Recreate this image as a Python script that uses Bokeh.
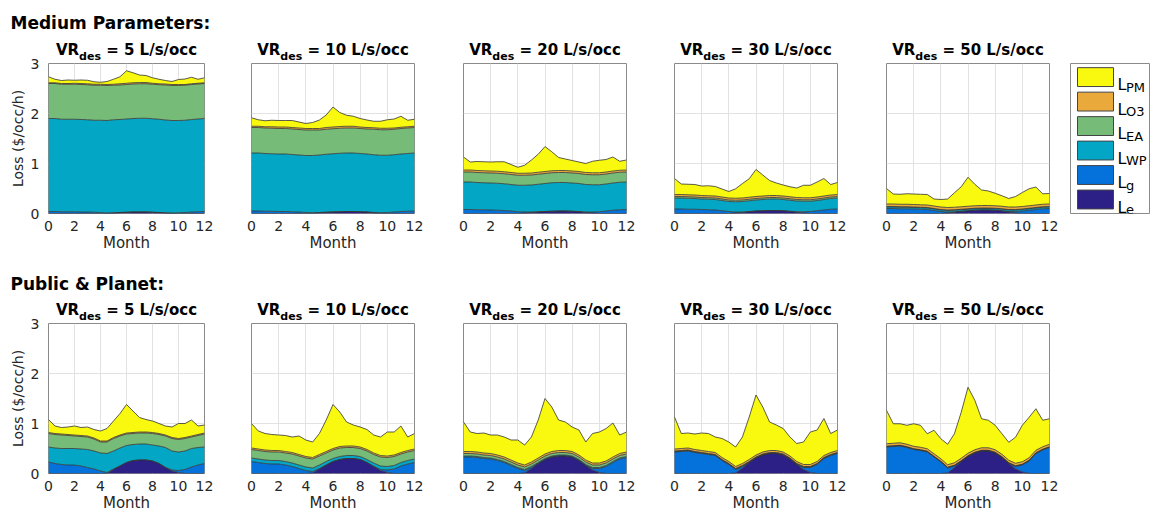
from bokeh.plotting import figure
from bokeh.models import ColumnDataSource, Range1d, FixedTicker, Label
from bokeh.layouts import row, column
from bokeh.embed import file_html
from bokeh.resources import INLINE
from bokeh.core.properties import value

# ---------------- data ----------------
MONTHS = [0, 0.5, 1, 1.5, 2, 2.5, 3, 3.5, 4, 4.5, 5, 5.5, 6, 6.5, 7, 7.5, 8, 8.5, 9, 9.5, 10, 10.5, 11, 11.5, 12]
VR_VALUES = [5, 10, 20, 30, 50]
XTICKS = [0, 2, 4, 6, 8, 10, 12]
YTICKS = [0, 1, 2, 3]
LAYERS = ["e", "g", "WP", "EA", "O3", "PM"]          # bottom -> top
LEGEND_ORDER = ["PM", "O3", "EA", "WP", "g", "e"]    # legend top -> bottom
ROW_TITLES = ["Medium Parameters:", "Public & Planet:"]

# Medium Parameters
MED5_E = [0, 0, 0, 0, 0, 0, 0, 0, 0, 0, 0.01, 0.02, 0.025, 0.03, 0.03, 0.03, 0.025, 0.02, 0.01, 0, 0, 0, 0, 0, 0]
MED5_G = [0.04, 0.04, 0.035, 0.035, 0.035, 0.03, 0.03, 0.025, 0.02, 0.01, 0.005, 0, 0, 0, 0, 0, 0, 0, 0.005, 0.01, 0.015, 0.02, 0.03, 0.035, 0.04]
MED5_WP = [1.86, 1.86, 1.85, 1.85, 1.85, 1.85, 1.845, 1.84, 1.845, 1.85, 1.86, 1.86, 1.865, 1.87, 1.875, 1.875, 1.87, 1.865, 1.855, 1.85, 1.845, 1.845, 1.85, 1.855, 1.86]
MED5_EA = [0.70, 0.70, 0.70, 0.70, 0.70, 0.70, 0.70, 0.70, 0.70, 0.70, 0.69, 0.69, 0.69, 0.69, 0.69, 0.69, 0.69, 0.69, 0.70, 0.70, 0.70, 0.70, 0.70, 0.70, 0.70]
MED5_O3 = [0.015, 0.015, 0.015, 0.015, 0.02, 0.02, 0.02, 0.02, 0.02, 0.02, 0.02, 0.025, 0.025, 0.025, 0.025, 0.025, 0.02, 0.02, 0.02, 0.02, 0.02, 0.015, 0.015, 0.015, 0.015]
MED5_PM = [0.12, 0.07, 0.06, 0.07, 0.06, 0.07, 0.07, 0.05, 0.04, 0.06, 0.10, 0.14, 0.25, 0.20, 0.15, 0.14, 0.11, 0.09, 0.07, 0.06, 0.10, 0.11, 0.13, 0.08, 0.10]

MED10_E = [0, 0, 0, 0, 0, 0, 0, 0, 0, 0.005, 0.015, 0.025, 0.03, 0.035, 0.04, 0.04, 0.035, 0.03, 0.015, 0.005, 0, 0, 0, 0, 0]
MED10_G = [0.05, 0.05, 0.045, 0.045, 0.04, 0.04, 0.035, 0.03, 0.02, 0.01, 0.005, 0, 0, 0, 0, 0, 0, 0, 0.005, 0.01, 0.02, 0.03, 0.04, 0.045, 0.05]
MED10_WP = [1.16, 1.16, 1.155, 1.15, 1.15, 1.15, 1.145, 1.14, 1.14, 1.145, 1.15, 1.16, 1.165, 1.17, 1.17, 1.17, 1.165, 1.16, 1.155, 1.15, 1.145, 1.145, 1.15, 1.155, 1.16]
MED10_EA = [0.51, 0.51, 0.51, 0.51, 0.51, 0.51, 0.51, 0.51, 0.51, 0.51, 0.50, 0.50, 0.50, 0.50, 0.50, 0.50, 0.50, 0.50, 0.51, 0.51, 0.51, 0.51, 0.51, 0.51, 0.51]
MED10_O3 = [0.025, 0.025, 0.025, 0.03, 0.03, 0.03, 0.03, 0.03, 0.03, 0.03, 0.03, 0.035, 0.035, 0.035, 0.035, 0.035, 0.03, 0.03, 0.03, 0.03, 0.03, 0.025, 0.025, 0.025, 0.025]
MED10_PM = [0.17, 0.13, 0.12, 0.13, 0.13, 0.13, 0.14, 0.12, 0.10, 0.12, 0.17, 0.25, 0.40, 0.28, 0.22, 0.20, 0.17, 0.15, 0.13, 0.14, 0.17, 0.18, 0.22, 0.13, 0.14]

MED20_E = [0, 0, 0, 0, 0, 0, 0, 0, 0, 0.01, 0.02, 0.03, 0.04, 0.045, 0.05, 0.05, 0.045, 0.035, 0.02, 0.01, 0, 0, 0, 0, 0]
MED20_G = [0.08, 0.08, 0.075, 0.075, 0.07, 0.065, 0.06, 0.05, 0.035, 0.02, 0.01, 0.005, 0, 0, 0, 0, 0, 0.005, 0.01, 0.02, 0.035, 0.05, 0.065, 0.075, 0.08]
MED20_WP = [0.55, 0.55, 0.545, 0.54, 0.54, 0.54, 0.535, 0.53, 0.53, 0.535, 0.54, 0.55, 0.56, 0.57, 0.57, 0.57, 0.565, 0.56, 0.55, 0.545, 0.54, 0.54, 0.545, 0.55, 0.55]
MED20_EA = [0.20, 0.20, 0.20, 0.20, 0.20, 0.20, 0.20, 0.20, 0.20, 0.20, 0.20, 0.20, 0.20, 0.20, 0.20, 0.20, 0.20, 0.20, 0.20, 0.20, 0.20, 0.20, 0.20, 0.20, 0.20]
MED20_O3 = [0.04, 0.04, 0.04, 0.04, 0.04, 0.04, 0.04, 0.04, 0.04, 0.04, 0.04, 0.04, 0.04, 0.04, 0.04, 0.04, 0.04, 0.04, 0.04, 0.04, 0.04, 0.04, 0.04, 0.04, 0.04]
MED20_PM = [0.26, 0.16, 0.18, 0.18, 0.18, 0.19, 0.20, 0.16, 0.12, 0.16, 0.26, 0.36, 0.50, 0.38, 0.26, 0.23, 0.21, 0.19, 0.18, 0.23, 0.25, 0.25, 0.28, 0.18, 0.20]

MED30_E = [0, 0, 0, 0, 0, 0, 0, 0, 0, 0.01, 0.02, 0.035, 0.05, 0.055, 0.06, 0.06, 0.055, 0.04, 0.025, 0.01, 0, 0, 0, 0, 0]
MED30_G = [0.09, 0.09, 0.085, 0.085, 0.08, 0.075, 0.07, 0.055, 0.04, 0.02, 0.01, 0.005, 0, 0, 0, 0, 0, 0.005, 0.01, 0.025, 0.04, 0.055, 0.07, 0.085, 0.09]
MED30_WP = [0.22, 0.22, 0.22, 0.215, 0.21, 0.21, 0.21, 0.205, 0.20, 0.205, 0.21, 0.215, 0.22, 0.225, 0.23, 0.23, 0.225, 0.22, 0.215, 0.21, 0.205, 0.205, 0.21, 0.215, 0.22]
MED30_EA = [0.03, 0.03, 0.03, 0.03, 0.03, 0.03, 0.03, 0.03, 0.03, 0.03, 0.03, 0.03, 0.03, 0.03, 0.03, 0.03, 0.03, 0.03, 0.03, 0.03, 0.03, 0.03, 0.03, 0.03, 0.03]
MED30_O3 = [0.04, 0.04, 0.04, 0.04, 0.04, 0.04, 0.04, 0.04, 0.04, 0.04, 0.04, 0.04, 0.04, 0.04, 0.04, 0.04, 0.04, 0.04, 0.04, 0.04, 0.04, 0.04, 0.04, 0.04, 0.04]
MED30_PM = [0.32, 0.21, 0.21, 0.21, 0.19, 0.20, 0.19, 0.16, 0.13, 0.19, 0.29, 0.37, 0.54, 0.42, 0.30, 0.25, 0.22, 0.20, 0.19, 0.25, 0.25, 0.30, 0.35, 0.21, 0.24]

MED50_E = [0, 0, 0, 0, 0, 0, 0, 0, 0, 0.01, 0.025, 0.04, 0.055, 0.065, 0.07, 0.07, 0.065, 0.05, 0.03, 0.01, 0, 0, 0, 0, 0]
MED50_G = [0.10, 0.10, 0.095, 0.095, 0.09, 0.085, 0.08, 0.06, 0.04, 0.02, 0.01, 0.005, 0, 0, 0, 0, 0, 0.005, 0.01, 0.03, 0.05, 0.065, 0.08, 0.095, 0.10]
MED50_WP = [0.03, 0.03, 0.03, 0.03, 0.03, 0.03, 0.03, 0.03, 0.03, 0.03, 0.03, 0.03, 0.03, 0.03, 0.03, 0.03, 0.03, 0.03, 0.03, 0.03, 0.03, 0.03, 0.03, 0.03, 0.03]
MED50_EA = [0.01, 0.01, 0.01, 0.01, 0.01, 0.01, 0.01, 0.01, 0.01, 0.01, 0.01, 0.01, 0.01, 0.01, 0.01, 0.01, 0.01, 0.01, 0.01, 0.01, 0.01, 0.01, 0.01, 0.01, 0.01]
MED50_O3 = [0.05, 0.05, 0.05, 0.05, 0.05, 0.05, 0.05, 0.05, 0.05, 0.05, 0.05, 0.05, 0.05, 0.05, 0.05, 0.05, 0.05, 0.05, 0.05, 0.05, 0.05, 0.05, 0.05, 0.05, 0.05]
MED50_PM = [0.31, 0.20, 0.20, 0.21, 0.21, 0.21, 0.21, 0.14, 0.15, 0.17, 0.29, 0.40, 0.58, 0.43, 0.31, 0.29, 0.25, 0.21, 0.17, 0.21, 0.28, 0.34, 0.36, 0.21, 0.21]

# Public & Planet
PUB5_E = [0, 0, 0, 0, 0, 0, 0, 0, 0, 0, 0.08, 0.15, 0.22, 0.26, 0.27, 0.27, 0.25, 0.20, 0.12, 0.05, 0.02, 0, 0, 0, 0]
PUB5_G = [0.23, 0.20, 0.18, 0.17, 0.17, 0.15, 0.12, 0.09, 0.05, 0.02, 0.01, 0, 0, 0, 0, 0, 0, 0, 0, 0.02, 0.04, 0.08, 0.13, 0.17, 0.20]
PUB5_WP = [0.30, 0.31, 0.32, 0.33, 0.33, 0.34, 0.36, 0.36, 0.36, 0.38, 0.36, 0.36, 0.34, 0.32, 0.32, 0.32, 0.32, 0.35, 0.40, 0.38, 0.37, 0.37, 0.37, 0.35, 0.33]
PUB5_EA = [0.27, 0.27, 0.27, 0.26, 0.25, 0.25, 0.25, 0.24, 0.22, 0.23, 0.25, 0.24, 0.23, 0.22, 0.22, 0.22, 0.23, 0.23, 0.23, 0.25, 0.25, 0.25, 0.23, 0.24, 0.26]
PUB5_O3 = [0.02, 0.02, 0.02, 0.02, 0.02, 0.02, 0.02, 0.02, 0.02, 0.02, 0.02, 0.02, 0.02, 0.02, 0.02, 0.02, 0.02, 0.02, 0.02, 0.02, 0.02, 0.02, 0.02, 0.02, 0.02]
PUB5_PM = [0.26, 0.15, 0.13, 0.15, 0.18, 0.16, 0.18, 0.17, 0.20, 0.25, 0.33, 0.43, 0.57, 0.43, 0.29, 0.25, 0.23, 0.20, 0.18, 0.21, 0.30, 0.28, 0.32, 0.17, 0.16]

PUB10_E = [0, 0, 0, 0, 0, 0, 0, 0, 0, 0.01, 0.09, 0.17, 0.24, 0.28, 0.30, 0.30, 0.28, 0.22, 0.14, 0.06, 0.02, 0, 0, 0, 0]
PUB10_G = [0.24, 0.22, 0.20, 0.19, 0.19, 0.17, 0.14, 0.10, 0.06, 0.03, 0.01, 0, 0, 0, 0, 0, 0, 0, 0, 0.02, 0.05, 0.09, 0.15, 0.19, 0.22]
PUB10_WP = [0.07, 0.07, 0.07, 0.07, 0.07, 0.07, 0.07, 0.07, 0.07, 0.07, 0.07, 0.07, 0.06, 0.06, 0.06, 0.06, 0.06, 0.06, 0.07, 0.07, 0.07, 0.07, 0.07, 0.07, 0.07]
PUB10_EA = [0.17, 0.17, 0.17, 0.17, 0.17, 0.17, 0.18, 0.18, 0.18, 0.18, 0.18, 0.17, 0.17, 0.17, 0.16, 0.16, 0.16, 0.17, 0.17, 0.18, 0.18, 0.18, 0.17, 0.17, 0.17]
PUB10_O3 = [0.03, 0.03, 0.03, 0.03, 0.03, 0.03, 0.03, 0.03, 0.03, 0.03, 0.03, 0.03, 0.03, 0.03, 0.03, 0.03, 0.03, 0.03, 0.03, 0.03, 0.03, 0.03, 0.03, 0.03, 0.03]
PUB10_PM = [0.49, 0.36, 0.33, 0.32, 0.31, 0.32, 0.31, 0.37, 0.33, 0.31, 0.42, 0.63, 0.88, 0.69, 0.48, 0.42, 0.40, 0.40, 0.36, 0.37, 0.48, 0.46, 0.53, 0.27, 0.31]

PUB20_E = [0, 0, 0, 0, 0, 0, 0, 0, 0, 0.01, 0.10, 0.20, 0.28, 0.33, 0.35, 0.35, 0.33, 0.26, 0.16, 0.07, 0.02, 0, 0, 0, 0]
PUB20_G = [0.33, 0.33, 0.32, 0.30, 0.29, 0.26, 0.22, 0.16, 0.10, 0.05, 0.02, 0, 0, 0, 0, 0, 0, 0, 0, 0.03, 0.08, 0.14, 0.22, 0.29, 0.32]
PUB20_WP = [0.02, 0.02, 0.02, 0.02, 0.02, 0.02, 0.02, 0.02, 0.02, 0.02, 0.02, 0.02, 0.02, 0.02, 0.02, 0.02, 0.02, 0.02, 0.02, 0.02, 0.02, 0.02, 0.02, 0.02, 0.02]
PUB20_EA = [0.05, 0.05, 0.05, 0.05, 0.05, 0.05, 0.05, 0.05, 0.05, 0.05, 0.05, 0.05, 0.05, 0.05, 0.05, 0.05, 0.05, 0.05, 0.05, 0.05, 0.05, 0.05, 0.05, 0.05, 0.05]
PUB20_O3 = [0.04, 0.04, 0.04, 0.04, 0.04, 0.04, 0.04, 0.04, 0.04, 0.04, 0.04, 0.04, 0.04, 0.04, 0.04, 0.04, 0.04, 0.04, 0.04, 0.04, 0.04, 0.04, 0.04, 0.04, 0.04]
PUB20_PM = [0.59, 0.39, 0.37, 0.40, 0.37, 0.40, 0.40, 0.40, 0.46, 0.40, 0.50, 0.76, 1.11, 0.89, 0.61, 0.57, 0.49, 0.50, 0.36, 0.59, 0.62, 0.65, 0.68, 0.37, 0.40]

PUB30_E = [0, 0, 0, 0, 0, 0, 0, 0, 0, 0.01, 0.11, 0.22, 0.31, 0.37, 0.40, 0.40, 0.37, 0.29, 0.18, 0.08, 0.02, 0, 0, 0, 0]
PUB30_G = [0.43, 0.44, 0.45, 0.42, 0.40, 0.38, 0.36, 0.26, 0.18, 0.07, 0.03, 0, 0, 0, 0, 0, 0, 0, 0, 0.04, 0.10, 0.18, 0.30, 0.36, 0.40]
PUB30_WP = [0.01, 0.01, 0.01, 0.01, 0.01, 0.01, 0.01, 0.01, 0.01, 0.01, 0.01, 0.01, 0.01, 0.01, 0.01, 0.01, 0.01, 0.01, 0.01, 0.01, 0.01, 0.01, 0.01, 0.01, 0.01]
PUB30_EA = [0.01, 0.01, 0.01, 0.01, 0.01, 0.01, 0.01, 0.01, 0.01, 0.01, 0.01, 0.01, 0.01, 0.01, 0.01, 0.01, 0.01, 0.01, 0.01, 0.01, 0.01, 0.01, 0.01, 0.01, 0.01]
PUB30_O3 = [0.04, 0.04, 0.04, 0.04, 0.04, 0.04, 0.04, 0.04, 0.04, 0.04, 0.04, 0.04, 0.04, 0.04, 0.04, 0.04, 0.04, 0.04, 0.04, 0.04, 0.04, 0.04, 0.04, 0.04, 0.04]
PUB30_PM = [0.64, 0.30, 0.30, 0.31, 0.35, 0.36, 0.31, 0.38, 0.39, 0.39, 0.53, 0.85, 1.20, 0.90, 0.57, 0.51, 0.47, 0.38, 0.36, 0.45, 0.65, 0.63, 0.74, 0.38, 0.41]

PUB50_E = [0, 0, 0, 0, 0, 0, 0, 0, 0, 0.01, 0.12, 0.24, 0.34, 0.41, 0.45, 0.45, 0.41, 0.32, 0.20, 0.09, 0.03, 0, 0, 0, 0]
PUB50_G = [0.53, 0.54, 0.55, 0.52, 0.48, 0.46, 0.43, 0.33, 0.23, 0.10, 0.03, 0, 0, 0, 0, 0, 0, 0, 0, 0.05, 0.14, 0.25, 0.40, 0.47, 0.52]
PUB50_WP = [0.01, 0.01, 0.01, 0.01, 0.01, 0.01, 0.01, 0.01, 0.01, 0.01, 0.01, 0.01, 0.01, 0.01, 0.01, 0.01, 0.01, 0.01, 0.01, 0.01, 0.01, 0.01, 0.01, 0.01, 0.01]
PUB50_EA = [0.005, 0.005, 0.005, 0.005, 0.005, 0.005, 0.005, 0.005, 0.005, 0.005, 0.005, 0.005, 0.005, 0.005, 0.005, 0.005, 0.005, 0.005, 0.005, 0.005, 0.005, 0.005, 0.005, 0.005, 0.005]
PUB50_O3 = [0.05, 0.05, 0.05, 0.05, 0.05, 0.05, 0.05, 0.05, 0.05, 0.05, 0.05, 0.05, 0.05, 0.05, 0.05, 0.05, 0.05, 0.05, 0.05, 0.05, 0.05, 0.05, 0.05, 0.05, 0.05]
PUB50_PM = [0.67, 0.39, 0.38, 0.38, 0.45, 0.44, 0.30, 0.47, 0.40, 0.41, 0.58, 0.92, 1.32, 0.99, 0.58, 0.55, 0.49, 0.41, 0.36, 0.52, 0.73, 0.81, 0.83, 0.53, 0.51]

MEDIUM = [
    [MED5_E, MED5_G, MED5_WP, MED5_EA, MED5_O3, MED5_PM],
    [MED10_E, MED10_G, MED10_WP, MED10_EA, MED10_O3, MED10_PM],
    [MED20_E, MED20_G, MED20_WP, MED20_EA, MED20_O3, MED20_PM],
    [MED30_E, MED30_G, MED30_WP, MED30_EA, MED30_O3, MED30_PM],
    [MED50_E, MED50_G, MED50_WP, MED50_EA, MED50_O3, MED50_PM],
]
PUBLIC = [
    [PUB5_E, PUB5_G, PUB5_WP, PUB5_EA, PUB5_O3, PUB5_PM],
    [PUB10_E, PUB10_G, PUB10_WP, PUB10_EA, PUB10_O3, PUB10_PM],
    [PUB20_E, PUB20_G, PUB20_WP, PUB20_EA, PUB20_O3, PUB20_PM],
    [PUB30_E, PUB30_G, PUB30_WP, PUB30_EA, PUB30_O3, PUB30_PM],
    [PUB50_E, PUB50_G, PUB50_WP, PUB50_EA, PUB50_O3, PUB50_PM],
]

# ---------------- style ----------------
FONT = "DejaVu Sans"
COLORS = {"e": "#2C1F86", "g": "#0571DB", "WP": "#04A6C5", "EA": "#76BB77", "O3": "#E9A93B", "PM": "#F8F90F"}
EDGE = "#333333"
FRAME = "#8A8A8A"
GRID = "#E2E2E2"
TXT = "#262626"

# DejaVu Sans Bold advance widths (em) for centering composed titles
BOLD_W = {"V": 0.774, "R": 0.770, "d": 0.716, "e": 0.678, "s": 0.595, " ": 0.348, "=": 0.838,
          "L": 0.637, "/": 0.365, "o": 0.687, "c": 0.593}
for _d in "0123456789":
    BOLD_W[_d] = 0.696


def tw(s, size):
    return sum(BOLD_W[c] for c in s) * size


# ---------------- layout geometry (pixels) ----------------
PAGE_W = 1150
FRAME_H = 150
YAX_W = 42                  # column holding the shared y axis of each row
# per panel column: (fig width, left border, right border)
COLS = [(185, 6, 23), (211, 24, 24), (212, 25, 24), (212, 24, 25), (198, 24, 11)]
FRAME_LEFT = []             # frame left inside the inner area (right of the y-axis column)
_acc = 0
for _w, _bl, _br in COLS:
    FRAME_LEFT.append(_acc + _bl)
    _acc += _w
INNER_W = PAGE_W - YAX_W
LEGEND_W = INNER_W - _acc

HEAD_H = [31, 34]           # row heading strips
HEAD_BASE = [22, 25]
TITLE_H = [31, 30]          # panel-title strips
TITLE_BASE = [18.5, 17.5]
SUB_DROP = 6.5
PANEL_TOP = 1
ROW_BOTTOM = [45, 41]
ROW_H = [PANEL_TOP + FRAME_H + b for b in ROW_BOTTOM]
LEG_TOP = 1
LEG_H = 155


def make_panel(layers, ci, ri):
    fw_total, bl, br = COLS[ci]
    src = ColumnDataSource(dict(x=MONTHS, **{k: v for k, v in zip(LAYERS, layers)}))
    p = figure(width=fw_total, height=ROW_H[ri], x_range=Range1d(0, 12), y_range=Range1d(0, 3),
               output_backend="svg", toolbar_location=None, y_axis_location=None,
               min_border_left=bl, min_border_right=br, min_border_top=PANEL_TOP,
               min_border_bottom=ROW_BOTTOM[ri])
    p.varea_stack(stackers=LAYERS, x="x", color=[COLORS[k] for k in LAYERS], source=src)
    p.vline_stack(stackers=LAYERS, x="x", line_color=EDGE, line_width=0.8, source=src)

    p.background_fill_color = "white"
    p.border_fill_color = "white"
    p.outline_line_color = FRAME
    p.outline_line_width = 1

    p.xaxis.ticker = FixedTicker(ticks=XTICKS)
    p.xgrid.ticker = FixedTicker(ticks=XTICKS)
    p.ygrid.ticker = FixedTicker(ticks=YTICKS)
    p.grid.grid_line_color = GRID
    p.grid.grid_line_width = 1

    ax = p.xaxis
    ax.axis_line_color = None
    ax.major_tick_in = 0
    ax.major_tick_out = 0
    ax.minor_tick_line_color = None
    ax.major_label_text_font = FONT
    ax.major_label_text_font_size = "14px"
    ax.major_label_text_color = TXT
    ax.major_label_standoff = 7
    ax.axis_label = "Month"
    ax.axis_label_text_font = FONT
    ax.axis_label_text_font_style = "normal"
    ax.axis_label_text_font_size = "15px"
    ax.axis_label_text_color = TXT
    ax.axis_label_standoff = 0
    return p


def make_yaxis(ri):
    """Loss axis of a row: same 0-3 range and same pixel extent as the panel frames."""
    h = TITLE_H[ri] + ROW_H[ri]
    p = figure(width=YAX_W, height=h, x_range=Range1d(0, 1), y_range=Range1d(0, 3),
               output_backend="svg", toolbar_location=None, x_axis_location=None,
               min_border_left=YAX_W - 1, min_border_right=0,
               min_border_top=TITLE_H[ri] + PANEL_TOP, min_border_bottom=ROW_BOTTOM[ri])
    p.grid.visible = False
    p.outline_line_color = None
    ax = p.yaxis
    ax.ticker = FixedTicker(ticks=YTICKS)
    ax.axis_line_color = None
    ax.major_tick_in = 0
    ax.major_tick_out = 0
    ax.minor_tick_line_color = None
    ax.major_label_text_font = FONT
    ax.major_label_text_font_size = "14px"
    ax.major_label_text_color = TXT
    ax.major_label_standoff = 2
    ax.axis_label = "Loss ($/occ/h)"
    ax.axis_label_text_font = FONT
    ax.axis_label_text_font_style = "normal"
    ax.axis_label_text_font_size = "14px"
    ax.axis_label_text_color = TXT
    ax.axis_label_standoff = 2
    return p


def blank_strip(width, h):
    p = figure(width=width, height=h, x_range=Range1d(0, width), y_range=Range1d(h, 0),
               output_backend="svg", toolbar_location=None, min_border=0,
               x_axis_location=None, y_axis_location=None)
    p.grid.visible = False
    p.outline_line_color = None
    p.background_fill_color = "white"
    return p


def make_heading(ri):
    p = blank_strip(PAGE_W, HEAD_H[ri])
    p.add_layout(Label(x=10, y=HEAD_BASE[ri], text=ROW_TITLES[ri],
                       text_font=FONT, text_font_style="bold", text_font_size="17px",
                       text_color="black", text_align="left", text_baseline="alphabetic"))
    return p


def make_titles(ri):
    p = blank_strip(INNER_W, TITLE_H[ri])
    main_size, sub_size = 15, 11
    base = TITLE_BASE[ri]
    common = dict(text_font=FONT, text_font_style="bold", text_color="black",
                  text_align="left", text_baseline="alphabetic")
    for ci, vr in enumerate(VR_VALUES):
        fw = COLS[ci][0] - COLS[ci][1] - COLS[ci][2]
        rest = "= %d L/s/occ" % vr
        w1 = tw("VR", main_size)
        w2 = tw("des", sub_size)
        ws = tw(" ", main_size)
        w3 = tw(rest, main_size)
        x0 = FRAME_LEFT[ci] + (fw - (w1 + w2 + ws + w3)) / 2
        p.add_layout(Label(x=x0, y=base, text="VR", text_font_size="%dpx" % main_size, **common))
        p.add_layout(Label(x=x0 + w1, y=base + SUB_DROP, text="des", text_font_size="%dpx" % sub_size, **common))
        p.add_layout(Label(x=x0 + w1 + w2 + ws, y=base, text=rest, text_font_size="%dpx" % main_size, **common))
    return p


def make_legend():
    LW = LEGEND_W - 11
    p = figure(width=LEGEND_W, height=ROW_H[0], x_range=Range1d(0, LW), y_range=Range1d(LEG_H, 0),
               output_backend="svg", toolbar_location=None,
               min_border_left=10, min_border_right=1, min_border_top=LEG_TOP,
               min_border_bottom=ROW_H[0] - LEG_TOP - LEG_H,
               x_axis_location=None, y_axis_location=None)
    p.grid.visible = False
    p.outline_line_color = FRAME
    p.outline_line_width = 1
    pitch, first, sh = 25.3, 4.3, 19.5
    tops = [first + pitch * i for i in range(len(LEGEND_ORDER))]
    p.quad(left=7, right=43, top=tops, bottom=[t + sh for t in tops],
           fill_color=[COLORS[k] for k in LEGEND_ORDER], line_color="#444444", line_width=1)
    p.text(x=[47] * len(tops), y=[t + 17.5 for t in tops], text=["L"] * len(tops),
           text_font=value(FONT), text_font_size=value("16px"), text_color="black",
           text_align="left", text_baseline="alphabetic")
    p.text(x=[55.5] * len(tops), y=[t + 20.5 for t in tops], text=LEGEND_ORDER,
           text_font=value(FONT), text_font_size=value("13px"), text_color="black",
           text_align="left", text_baseline="alphabetic")
    return p


panels1 = [make_panel(MEDIUM[i], i, 0) for i in range(5)] + [make_legend()]
panels2 = [make_panel(PUBLIC[i], i, 1) for i in range(5)]

layout = column(
    make_heading(0),
    row(make_yaxis(0), column(make_titles(0), row(*panels1))),
    make_heading(1),
    row(make_yaxis(1), column(make_titles(1), row(*panels2))),
)

open("out.html", "w").write(file_html(layout, INLINE, title="Loss by ventilation rate"))
